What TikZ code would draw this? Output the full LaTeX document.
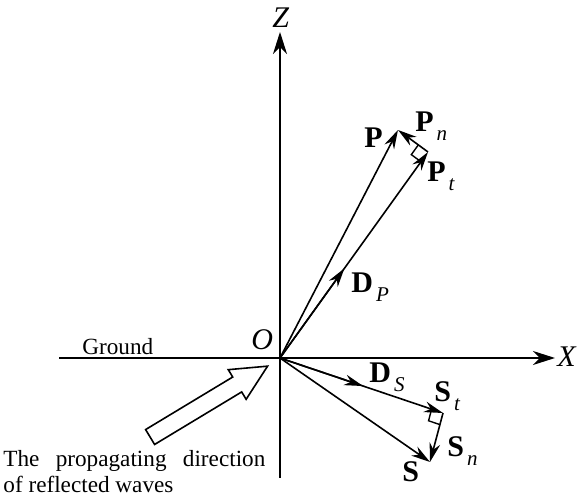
\documentclass[tikz,border=0pt]{standalone}
\usepackage{fontspec}
\setmainfont{Liberation Serif}
\usepackage{tikz}
\usetikzlibrary{arrows.meta, positioning, calc, shapes.arrows}
\newcommand{\lowidx}[1]{\hspace{1.5pt}\raisebox{-4.5pt}{\fontsize{10.5}{10.5}\selectfont\mdseries\itshape #1}}

\begin{document}
\begin{tikzpicture}[
    x=0.5pt, y=-0.5pt,
    axis/.style={line width=0.8pt, -{Stealth[length=11pt, width=7pt, inset=3.5pt]}},
    vec/.style={line width=0.8pt, -{Stealth[length=9.5pt, width=5.4pt]}},
    vlabel/.style={anchor=base west, inner sep=0pt, font=\fontsize{15}{15}\selectfont\bfseries},
    alabel/.style={anchor=base west, inner sep=0pt, font=\fontsize{15}{15}\selectfont\itshape},
]
\useasboundingbox (0,0) rectangle (578,501);
% Points
\coordinate (O) at (280,358);
\coordinate (Zb) at (280,478);
\coordinate (Zt) at (280,32);
\coordinate (Xl) at (59,358);
\coordinate (Xr) at (555,358);
\coordinate (Pt) at (428,152);
\coordinate (P) at (398,130);
\coordinate (St) at (443,413);
\coordinate (S) at (430,462);
\coordinate (DP) at ($(O)!0.435!(Pt)$);
\coordinate (DS) at ($(O)!0.51!(St)$);
% Axes
\draw[axis] (Zb) -- (Zt);
\draw[axis] (Xl) -- (Xr);
\node[alabel] (lZ) at (272,28) {Z};
\node[alabel] (lX) at (557,367) {X};
\node[alabel] (lO) at (251,350) {O};
\node[anchor=base west, inner sep=0pt, font=\fontsize{11.6}{12}\selectfont] (lground) at (82,355) {Ground};
% P vectors
\draw[vec] (O) -- (P);
\draw[vec] (O) -- (Pt);
\draw[vec] (O) -- (DP);
\draw[vec] (Pt) -- (P);
\coordinate (Pa) at ($(Pt)!6pt!(O)$);
\coordinate (Pb) at ($(Pt)!6pt!(P)$);
\draw[line width=0.7pt] (Pa) -- ($(Pa)+(Pb)-(Pt)$) -- (Pb);
\node[vlabel] (lP) at (364,148) {P};
\node[vlabel] (lPn) at (415,132) {P\lowidx{n}};
\node[vlabel] (lPt) at (427,182) {P\lowidx{t}};
\node[vlabel] (lDP) at (351,293) {D\lowidx{P}};
% S vectors
\draw[vec] (O) -- (S);
\draw[vec] (O) -- (St);
\draw[vec] (O) -- (DS);
\draw[vec] (St) -- (S);
\coordinate (Sa) at ($(St)!6pt!(O)$);
\coordinate (Sb) at ($(St)!6pt!(S)$);
\draw[line width=0.7pt] (Sa) -- ($(Sa)+(Sb)-(St)$) -- (Sb);
\node[vlabel] (lS) at (402,482) {S};
\node[vlabel] (lSt) at (434,402) {S\lowidx{t}};
\node[vlabel] (lSn) at (447,457) {S\lowidx{n}};
\node[vlabel] (lDS) at (369,383) {D\lowidx{S}};
% Reflected waves
\node[single arrow, draw, fill=white, line width=0.8pt, rotate=31.1,
      minimum height=68.6pt, inner sep=0pt, inner ysep=3.95pt,
      single arrow head extend=4.3pt, single arrow tip angle=52,
      single arrow head indent=0pt] (wave) at (201.2,406.2) {};
\node[anchor=north west, inner sep=0pt, align=left,
      font=\fontsize{11.6}{13.2}\selectfont] (lwave) at (3,450)
    {\makebox[131pt][s]{The propagating direction}\\of reflected waves};
\end{tikzpicture}
\end{document}
